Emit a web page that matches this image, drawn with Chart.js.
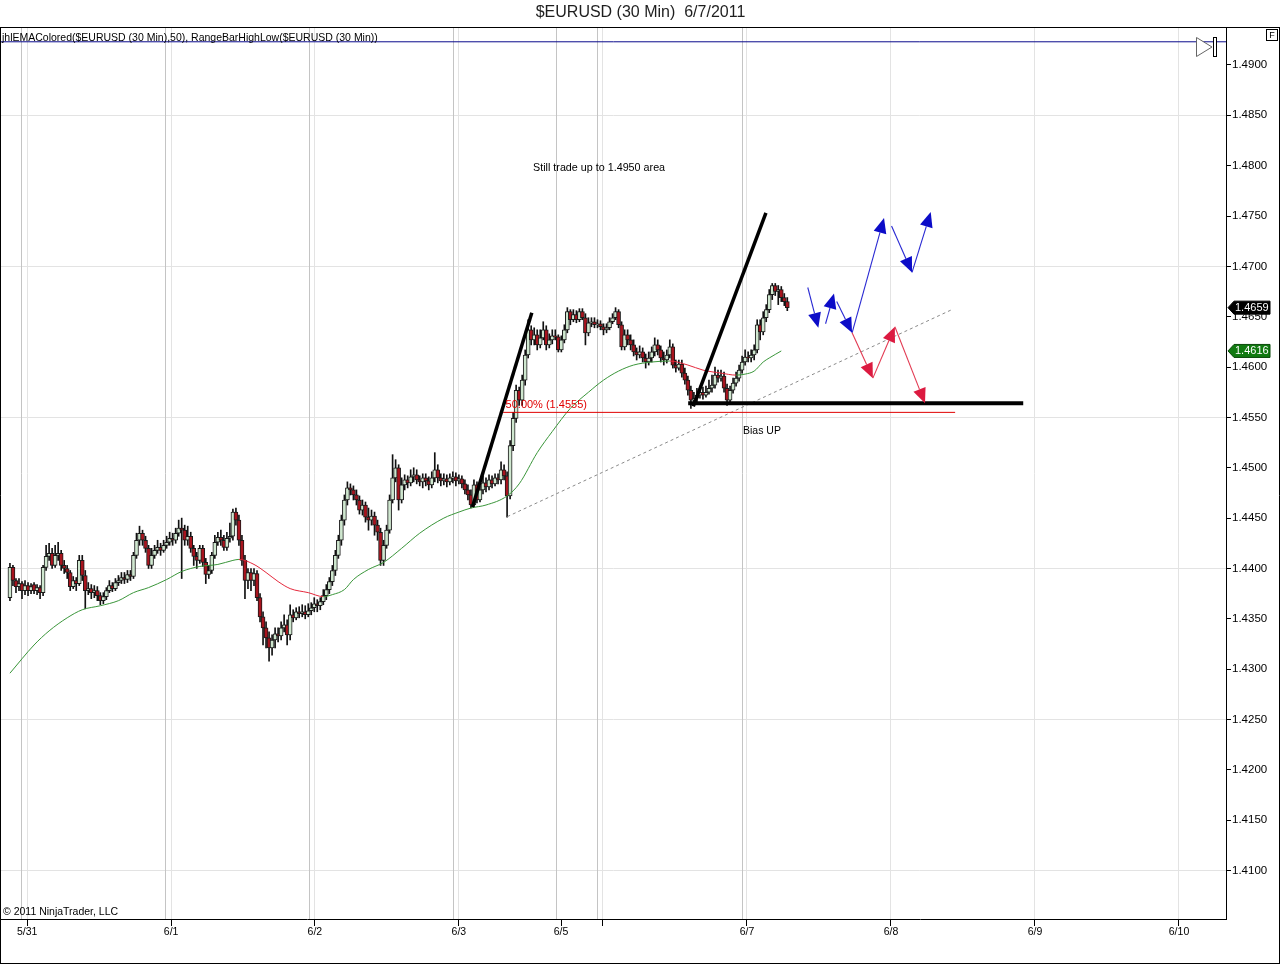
<!DOCTYPE html>
<html><head><meta charset="utf-8">
<script src="https://cdn.jsdelivr.net/npm/chart.js@4.4.1/dist/chart.umd.min.js"></script>
<style>html,body{margin:0;padding:0;background:#fff;overflow:hidden}canvas{display:block}</style>
</head><body>
<canvas id="c" width="1280" height="965"></canvas>
<script>
// ---- DATA (prices in pips above 1.4000, bars indexed from FIRST_BAR) ----
const FIRST_BAR = -4;
const opens = [
371,401,388,382,385,378,383,378,384,378,
381,376,401,412,415,403,413,415,403,400,
396,382,388,385,408,393,378,380,376,378,
373,368,372,378,383,380,386,388,391,389,
394,392,413,428,435,428,420,403,413,418,
421,418,423,426,430,428,435,440,438,428,
432,420,412,408,420,406,394,398,413,426,
431,428,421,430,432,456,448,428,408,388,
396,388,395,371,352,341,331,321,329,335,
333,341,344,334,354,351,357,355,357,354,
358,361,365,363,367,373,379,387,398,413,
428,448,468,480,478,473,468,458,463,451,
448,452,443,436,408,423,438,468,490,500,
468,483,488,485,491,493,488,486,490,487,
483,490,498,490,487,489,486,490,491,487,
489,484,478,473,463,483,468,478,485,481,
488,484,490,488,498,492,472,522,549,577,
567,587,612,637,627,632,622,629,637,622,
627,631,630,617,627,637,655,647,652,647,
655,649,634,644,645,642,643,640,637,639,
645,649,655,642,620,632,627,622,615,612,
615,609,605,609,615,622,617,609,607,612,
620,602,599,603,594,587,577,567,569,572,
575,572,575,579,582,592,589,591,579,567,
577,584,589,597,605,610,609,612,617,642,
635,649,657,672,681,675,677,669,665];
const highs = [
405,403,390,390,387,388,386,385,386,384,
383,403,423,425,420,423,426,418,408,403,
398,392,391,413,413,398,386,384,383,382,
376,376,381,388,386,390,393,396,396,398,
398,416,435,442,438,432,423,420,423,428,
425,428,432,436,435,440,448,450,443,442,
436,423,416,423,423,410,403,416,433,436,
438,433,436,445,459,460,453,433,413,400,
400,400,398,375,357,347,337,334,341,341,
347,354,349,364,359,361,362,364,363,365,
366,371,369,371,379,384,391,403,418,433,
453,473,486,484,482,478,472,468,466,460,
458,456,448,440,428,443,473,513,508,503,
490,493,492,498,500,498,492,494,494,491,
496,515,503,494,494,493,494,496,495,493,
492,488,483,478,488,486,482,492,490,493,
492,494,494,506,503,496,527,555,582,580,
592,617,647,641,639,637,637,645,641,633,
637,637,632,631,642,659,657,657,656,658,
658,653,649,649,649,647,646,643,643,649,
653,659,657,645,637,637,632,627,619,621,
619,613,615,620,629,627,621,615,617,627,
623,607,607,607,599,591,581,575,579,581,
580,581,587,592,600,597,597,595,583,581,
589,595,602,611,617,615,617,622,647,647,
655,662,677,683,683,681,680,673,669];
const lows = [
368,383,376,378,370,374,373,375,375,374,
370,373,398,408,400,401,408,398,395,390,
378,380,378,383,388,360,374,370,371,368,
364,365,369,376,377,378,383,385,385,386,
388,390,410,423,423,416,400,400,410,415,
413,416,420,423,423,425,432,390,423,423,
416,403,400,405,402,385,390,395,410,423,
423,418,418,426,428,443,423,403,370,380,
378,383,368,347,324,321,308,314,321,327,
329,337,324,329,347,349,351,352,350,352,
354,357,357,359,364,369,375,383,393,410,
423,443,463,473,468,463,454,453,446,438,
443,433,428,403,403,420,435,465,486,458,
465,478,480,482,486,484,482,480,482,478,
480,486,485,482,483,481,483,485,482,484,
480,474,468,460,461,465,466,474,476,478,
480,482,484,484,488,451,469,517,545,562,
562,582,609,622,622,617,619,627,617,619,
623,627,615,615,624,634,642,645,644,645,
647,622,631,640,639,639,637,632,634,637,
643,647,639,617,617,622,617,611,607,609,
605,599,602,605,611,612,605,602,604,609,
599,595,597,590,583,572,559,562,565,569,
568,570,573,575,579,585,586,575,562,564,
574,581,586,594,602,605,605,607,614,627,
632,645,654,667,671,662,665,661,656];
const closes = [
401,388,382,385,378,383,378,382,378,381,
376,401,412,415,403,413,415,403,400,396,
382,388,385,408,393,378,380,376,378,373,
368,372,378,383,380,386,388,391,389,394,
392,413,428,435,428,420,403,413,418,421,
418,423,426,430,428,435,440,438,428,432,
420,412,408,420,406,394,398,413,426,431,
428,421,430,432,456,448,428,408,388,396,
388,395,371,352,341,331,321,329,335,333,
341,344,334,354,351,357,355,357,354,358,
361,365,363,367,373,379,387,398,413,428,
448,468,480,478,473,468,458,463,451,448,
452,443,436,408,423,438,468,490,500,468,
483,488,485,491,493,488,486,490,487,483,
490,498,490,487,489,486,490,491,487,489,
484,478,473,463,483,468,478,485,481,488,
484,490,488,498,492,472,522,549,577,567,
587,612,637,627,632,622,629,637,622,627,
631,630,617,627,637,655,647,652,647,655,
649,634,644,645,642,643,640,637,639,645,
649,655,642,620,632,627,622,615,612,615,
609,605,609,615,622,617,609,607,612,620,
602,599,603,594,587,577,567,569,572,575,
572,575,579,582,592,589,591,579,567,577,
584,589,597,605,610,609,612,617,642,635,
649,657,672,681,675,677,669,665,659];

// 50-period EMA (bar, pips)
const emaBars = [-4,4,9,15,20,26,32,37,42,48,53,59,65,70,72,77,81,85,89,95,100,103,107,110,115,120,126,132,140,145,149,154,161,165,171,176,182,188,193,198,203,209,215,221,226,232,237,240,243,246,248,252];
const emaPips = [296,324,338,351,359,363,368,376,381,389,397,402,404,408,409,404,396,387,380,376,372,374,379,389,399,406,420,435,450,456,460,463,472,484,515,536,559,575,587,596,602,605,606,602,597,594,592,593,596,605,609,616];

// time axis
const xTickBars = [1.7, 49.5, 97.2, 145.0, 178.9, 192.8, 240.6, 288.4, 336.2, 384.0];
const xTickLabels = ['5/31','6/1','6/2','6/3','6/5','','6/7','6/8','6/9','6/10'];
const sessionBars = [-0.3, 47.6, 95.4, 143.1, 177.2, 191.0, 238.8];
// price axis
const yTicks = [1.4100,1.4150,1.4200,1.4250,1.4300,1.4350,1.4400,1.4450,1.4500,1.4550,1.4600,1.4650,1.4700,1.4750,1.4800,1.4850,1.4900];

// drawings (bar, pips)
const swingLine1 = [[149.5,461],[169.2,654]];
const swingLine2 = [[222.8,561],[246.9,753]];
const supportLine = [[221.1,564],[332.3,564]];
const fibLine = [[159.7,555],[309.7,555]];
const trendLine = [[161.1,451.5],[309.1,657.7]];
const rangeLevel = 923;
const blueArrows = [[260.8,679,264.3,639],[266.7,643,269.5,673],[270.4,665,275.5,634],[275.5,634,286.1,748],[288.6,740,295.4,694],[295.4,694,301.6,754]];
const redArrows = [[275.5,634,282.4,589],[282.4,589,289.7,640],[289.7,640,299.7,564]];
const notes = [
  {text:'Still trade up to 1.4950 area', bar:169.6, pips:798},
  {text:'Bias UP', bar:239.3, pips:536.5}
];
const fibLabel = {text:'50.00% (1.4555)', bar:160.5, pips:562};

// ---- helpers / styles ----
const FONT = "'Liberation Sans', Arial, sans-serif";
const px = p => 1.4 + p / 10000;
const X_MIN = -6.97, X_MAX = 399.6;
const Y_MIN = 1.40519, Y_MAX = 1.49367;
const UP = '#cfe7cf', DOWN = '#a8141e';
const EMA_UP = '#3a963a', EMA_DOWN = '#e5283c';
const LIGHT = '#e3e3e3';

const bars = opens.map((o, k) => FIRST_BAR + k);
const wickData = bars.map((b, k) => ({x: b, y: [px(lows[k]), px(highs[k])]}));
const bodyData = bars.map((b, k) => ({x: b, y: [px(Math.min(opens[k], closes[k])), px(Math.max(opens[k], closes[k]))]}));
const bodyColors = bars.map((b, k) => closes[k] >= opens[k] ? UP : DOWN);
const emaData = emaBars.map((b, k) => ({x: b, y: px(emaPips[k])}));
const toPts = arr => arr.map(p => ({x: p[0], y: px(p[1])}));

function lineDs(pts, color, width, dash) {
  return {type: 'line', data: toPts(pts), borderColor: color, borderWidth: width, borderDash: dash || [],
          pointRadius: 0, fill: false, tension: 0, order: 0, borderCapStyle: 'butt'};
}

const overlay = {
  id: 'overlay',
  beforeDraw(chart) {
    const c = chart.ctx;
    c.save(); c.fillStyle = '#fff'; c.fillRect(0, 0, chart.width, chart.height); c.restore();
  },
  beforeDatasetsDraw(chart) {
    const c = chart.ctx, a = chart.chartArea, xs = chart.scales.x;
    c.save();
    c.strokeStyle = '#c4c4c4'; c.lineWidth = 1;
    sessionBars.forEach(b => {
      const x = Math.round(xs.getPixelForValue(b)) + 0.5;
      c.beginPath(); c.moveTo(x, a.top); c.lineTo(x, a.bottom); c.stroke();
    });
    c.restore();
  },
  afterDatasetsDraw(chart) {
    const c = chart.ctx, xs = chart.scales.x, ys = chart.scales.y, a = chart.chartArea;
    c.save();
    c.beginPath(); c.rect(a.left, a.top, a.right - a.left, a.bottom - a.top); c.clip();
    const arrow = (ar, shaft, head) => {
      const x1 = xs.getPixelForValue(ar[0]), y1 = ys.getPixelForValue(px(ar[1]));
      const x2 = xs.getPixelForValue(ar[2]), y2 = ys.getPixelForValue(px(ar[3]));
      const ang = Math.atan2(y2 - y1, x2 - x1), L = 15, W = 6.5;
      const bx = x2 - L * Math.cos(ang), by = y2 - L * Math.sin(ang);
      c.strokeStyle = shaft; c.lineWidth = 1.1;
      c.beginPath(); c.moveTo(x1, y1); c.lineTo(bx, by); c.stroke();
      c.fillStyle = head;
      c.beginPath(); c.moveTo(x2, y2);
      c.lineTo(bx + W * Math.sin(ang), by - W * Math.cos(ang));
      c.lineTo(bx - W * Math.sin(ang), by + W * Math.cos(ang));
      c.closePath(); c.fill();
    };
    blueArrows.forEach(ar => arrow(ar, '#2828d2', '#0c0cc8'));
    redArrows.forEach(ar => arrow(ar, '#e23a52', '#dc1a40'));
    c.textBaseline = 'middle'; c.textAlign = 'left';
    c.fillStyle = '#000'; c.font = '10.75px ' + FONT;
    c.fillText(notes[0].text, xs.getPixelForValue(notes[0].bar), ys.getPixelForValue(px(notes[0].pips)));
    c.font = '10.5px ' + FONT;
    c.fillText(notes[1].text, xs.getPixelForValue(notes[1].bar), ys.getPixelForValue(px(notes[1].pips)));
    c.fillStyle = '#e00000'; c.font = '11px ' + FONT;
    c.fillText(fibLabel.text, xs.getPixelForValue(fibLabel.bar), ys.getPixelForValue(px(fibLabel.pips)));
    c.restore();
    // indicator caption
    c.save();
    c.fillStyle = '#000'; c.font = '10.5px ' + FONT; c.textBaseline = 'middle';
    c.fillText('jhlEMAColored($EURUSD (30 Min),50), RangeBarHighLow($EURUSD (30 Min))', 2, 38.5);
    c.fillText('\u00A9 2011 NinjaTrader, LLC', 3, 912);
    // end-of-chart icon
    c.fillStyle = '#fff'; c.strokeStyle = '#666'; c.lineWidth = 1;
    c.beginPath(); c.moveTo(1196.5, 37.5); c.lineTo(1212, 47); c.lineTo(1196.5, 56.5); c.closePath(); c.fill(); c.stroke();
    c.strokeStyle = '#000';
    c.fillRect(1213.5, 37.5, 3, 19); c.strokeRect(1213.5, 37.5, 3, 19);
    c.restore();
  },
  afterDraw(chart) {
    const c = chart.ctx, ys = chart.scales.y, a = chart.chartArea;
    c.save();
    const tag = (val, fill, edge) => {
      const y = ys.getPixelForValue(val);
      c.fillStyle = fill; c.strokeStyle = edge; c.lineWidth = 1;
      c.beginPath();
      c.moveTo(a.right + 2, y); c.lineTo(a.right + 8, y - 6.5); c.lineTo(1270, y - 6.5);
      c.lineTo(1270, y + 6.5); c.lineTo(a.right + 8, y + 6.5); c.closePath();
      c.fill(); c.stroke();
      c.fillStyle = '#fff'; c.font = '11px ' + FONT; c.textBaseline = 'middle'; c.textAlign = 'left';
      c.fillText(val.toFixed(4), a.right + 9, y + 0.5);
    };
    tag(px(closes[closes.length - 1]), '#000', '#000');
    tag(px(emaPips[emaPips.length - 1]), '#117a11', '#0a4a0a');
    // F box
    c.fillStyle = '#fff'; c.fillRect(1266.5, 29.5, 11, 11);
    c.strokeStyle = '#000'; c.lineWidth = 1; c.strokeRect(1266.5, 29.5, 11, 11);
    c.fillStyle = '#000'; c.font = '9px ' + FONT; c.textAlign = 'center'; c.textBaseline = 'middle';
    c.fillText('F', 1272, 35.5);
    // frame
    c.beginPath();
    c.moveTo(0, 27.5); c.lineTo(1280, 27.5);
    c.moveTo(0.5, 27.5); c.lineTo(0.5, 964);
    c.moveTo(0, 963.5); c.lineTo(1280, 963.5);
    c.moveTo(1279.5, 27.5); c.lineTo(1279.5, 964);
    c.stroke();
    c.restore();
  }
};

Chart.defaults.font.family = FONT;

new Chart(document.getElementById('c'), {
  type: 'bar',
  data: {
    datasets: [
      lineDs(supportLine, '#000', 4),
      lineDs(swingLine1, '#000', 3.5),
      lineDs(swingLine2, '#000', 3.5),
      lineDs(fibLine, '#e00000', 1),
      lineDs(trendLine, '#8a8a8a', 1, [3, 3]),
      lineDs([[X_MIN, rangeLevel], [X_MAX, rangeLevel]], '#0a0a8c', 1),
      {type: 'line', data: emaData, borderWidth: 1, pointRadius: 0, fill: false,
       cubicInterpolationMode: 'monotone', order: 1, borderColor: EMA_UP,
       segment: {borderColor: s => s.p1.parsed.y < s.p0.parsed.y ? EMA_DOWN : EMA_UP}},
      {type: 'bar', data: bodyData, backgroundColor: bodyColors, borderColor: '#1a1a1a', borderWidth: 1,
       borderSkipped: false, barThickness: 4, grouped: false, order: 2},
      {type: 'bar', data: wickData, backgroundColor: '#111', borderWidth: 0,
       barThickness: 1, grouped: false, order: 3}
    ]
  },
  options: {
    responsive: false, animation: false, devicePixelRatio: 1, events: [],
    layout: {padding: {left: 1, right: 0, top: 0, bottom: 0}},
    plugins: {
      legend: {display: false}, tooltip: {enabled: false},
      title: {display: true, text: '$EURUSD (30 Min)  6/7/2011', color: '#1e1e1e',
              font: {family: FONT, size: 16, weight: 'normal', lineHeight: 1.1875},
              padding: {top: 3, bottom: 6}}
    },
    scales: {
      x: {
        type: 'linear', position: 'bottom', min: X_MIN, max: X_MAX, offset: false,
        afterBuildTicks: s => { s.ticks = xTickBars.map(v => ({value: v})); },
        afterFit: s => { s.height = 46; },
        ticks: {autoSkip: false, maxRotation: 0, minRotation: 0, padding: 0, color: '#000',
                font: {family: FONT, size: 10.5}, callback: (v, i) => xTickLabels[i]},
        grid: {offset: false, color: ctx => ctx.index === 4 ? 'rgba(0,0,0,0)' : LIGHT, tickColor: '#000', tickLength: 7, lineWidth: 1},
        border: {display: true, color: '#000', width: 1}
      },
      y: {
        type: 'linear', position: 'right', min: Y_MIN, max: Y_MAX,
        afterBuildTicks: s => { s.ticks = yTicks.map(v => ({value: v})); },
        afterFit: s => { s.width = 54; },
        ticks: {padding: 1, color: '#000', font: {family: FONT, size: 11.5}, callback: v => v.toFixed(4)},
        grid: {color: ctx => (ctx.tick && (Math.round(ctx.tick.value * 10000) - 14100) % 150 === 0) ? LIGHT : 'rgba(0,0,0,0)',
               tickColor: '#000', tickLength: 5, lineWidth: 1},
        border: {display: true, color: '#000', width: 1}
      }
    }
  },
  plugins: [overlay]
});
</script>
</body></html>
